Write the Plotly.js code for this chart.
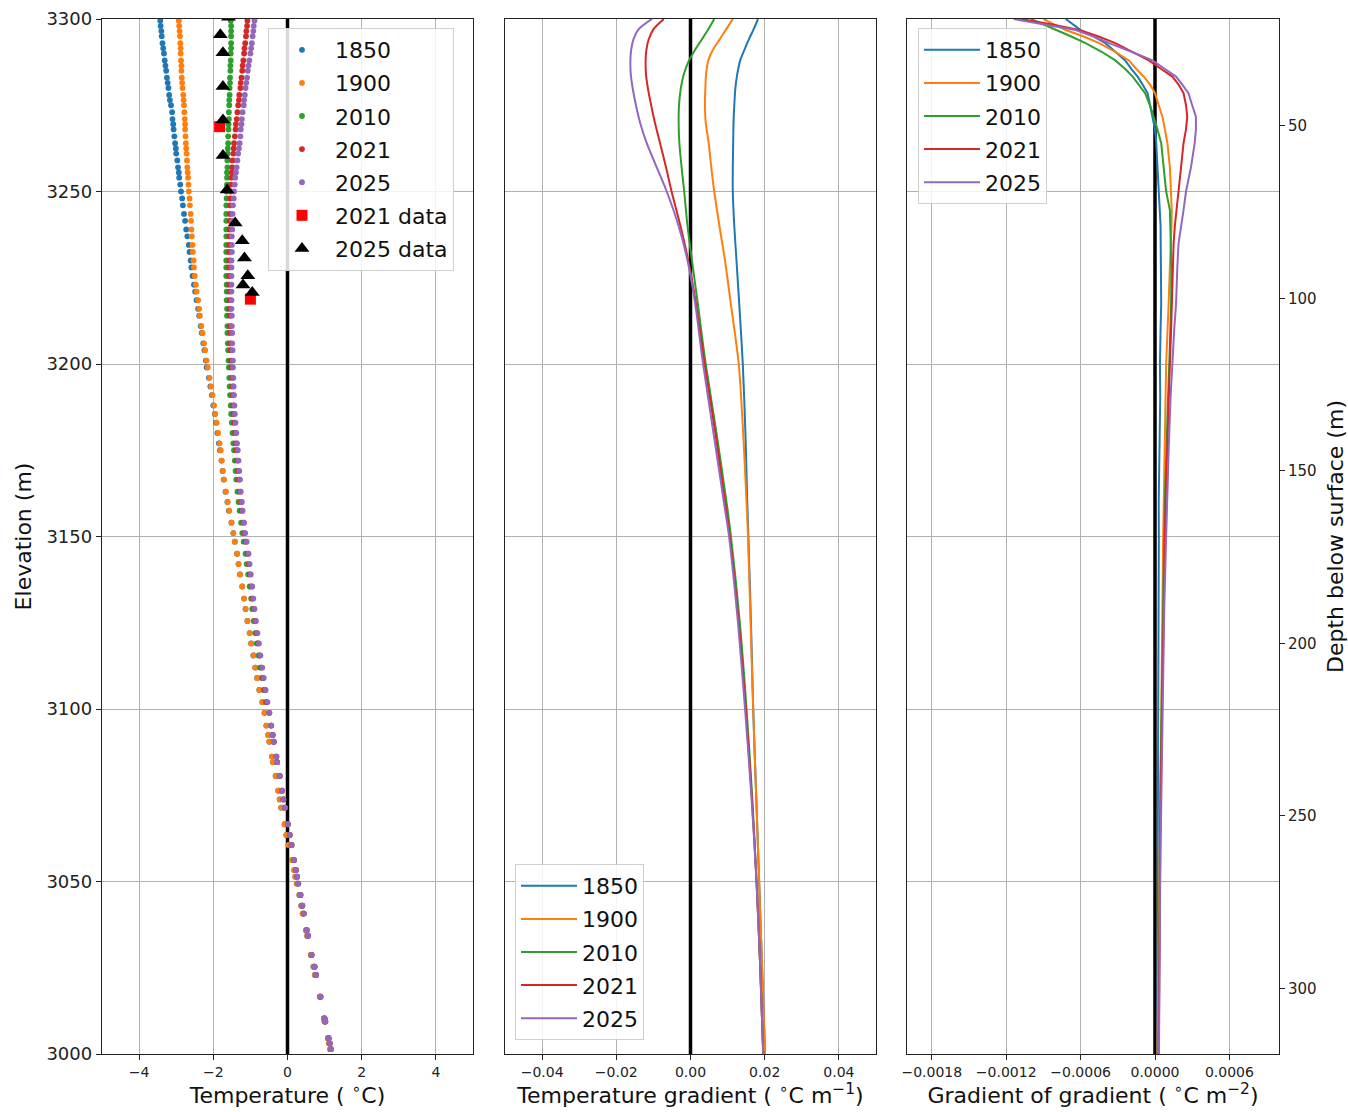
<!DOCTYPE html>
<html>
<head>
<meta charset="utf-8">
<script src="https://cdn.plot.ly/plotly-3.0.1.min.js"></script>
<style>html,body{margin:0;padding:0;background:#fff;}#chart{width:1348px;height:1112px;}</style>
</head>
<body>
<div id="chart"></div>
<script>
// ---------- Panel 1: modelled temperature at mesh nodes ----------
const elevUpper = [3299.5,3298,3296.5,3295,3293,3291.5,3290,3288,3286.5,3285,3283,3281.5,3280,3278,3276.5,3275,3273,3271,3269.5,3268,3266,3264,3262.5,3261,3259,3257,3255.5,3254,3252,3250,
3248,3246,3243.5,3241.5,3239,3237,3234.5,3232.5,3230,3228,3225.5,3223,3221,3218.5,3216,3214,3211,3209,3206,3204,3201,3199,3196,3193.5,3191,3188,3185.5,3183,3180,3177,3175,3172,3169,3166.5,3163,3160,3157.5,3154,3151,3148.5,3145,3142,3139,3135.5,3132,3129,3125.5,3122,3119,3115.5,3112,3109,3105.5,3102];
const elevLower = [3098.9,3095.2,3092.5,3090.5,3086.2,3084.6,3080.6,3076.3,3073.8,3071.4,3066.6,3063.5,3060.6,3056.2,3053.3,3051.4,3049.4,3046.1,3043.0,3040.7,3035.9,3034.3,3028.7,3025.3,3022.9,3016.6,3010.3,3009.4,3004.6,3003.1,3001.4];

const t1850Upper = [-3.43,-3.42,-3.40,-3.39,-3.37,-3.35,-3.33,-3.31,-3.29,-3.27,-3.25,-3.23,-3.21,-3.19,-3.17,-3.14,-3.11,-3.10,-3.08,-3.07,-3.05,-3.03,-3.01,-3.00,-2.97,-2.95,-2.93,-2.92,-2.89,-2.87,
-2.84,-2.82,-2.79,-2.76,-2.73,-2.70,-2.66,-2.64,-2.61,-2.59,-2.56,-2.52,-2.49,-2.45,-2.41,-2.38,-2.34,-2.31,-2.27,-2.24,-2.20,-2.18,-2.12,-2.08,-2.04,-2.00,-1.96,-1.93,-1.89,-1.85,-1.82,-1.78,-1.75,-1.72,-1.67,-1.62,-1.58,-1.51,-1.46,-1.42,-1.36,-1.32,-1.28,-1.22,-1.17,-1.13,-1.08,-1.02,-0.98,-0.92,-0.87,-0.82,-0.76,-0.68];
const t1900Upper = [-2.93,-2.92,-2.91,-2.90,-2.89,-2.88,-2.88,-2.87,-2.86,-2.86,-2.85,-2.84,-2.83,-2.81,-2.80,-2.79,-2.78,-2.77,-2.76,-2.76,-2.75,-2.74,-2.73,-2.72,-2.71,-2.70,-2.69,-2.68,-2.67,-2.66,
-2.64,-2.63,-2.61,-2.60,-2.59,-2.58,-2.56,-2.55,-2.53,-2.52,-2.50,-2.47,-2.45,-2.41,-2.38,-2.36,-2.32,-2.29,-2.25,-2.22,-2.18,-2.15,-2.10,-2.06,-2.02,-1.98,-1.95,-1.91,-1.87,-1.83,-1.80,-1.77,-1.74,-1.71,-1.66,-1.61,-1.57,-1.51,-1.46,-1.42,-1.36,-1.32,-1.28,-1.22,-1.17,-1.13,-1.08,-1.02,-0.98,-0.92,-0.87,-0.82,-0.76,-0.68];
const t2010Upper = [-1.53,-1.52,-1.52,-1.52,-1.52,-1.52,-1.53,-1.53,-1.54,-1.54,-1.55,-1.55,-1.56,-1.56,-1.57,-1.57,-1.58,-1.58,-1.59,-1.59,-1.60,-1.60,-1.61,-1.61,-1.62,-1.62,-1.63,-1.63,-1.63,-1.64,
-1.64,-1.65,-1.65,-1.65,-1.65,-1.65,-1.65,-1.65,-1.65,-1.65,-1.65,-1.64,-1.64,-1.64,-1.63,-1.63,-1.62,-1.62,-1.61,-1.60,-1.59,-1.58,-1.57,-1.56,-1.55,-1.53,-1.52,-1.50,-1.48,-1.46,-1.44,-1.42,-1.40,-1.38,-1.35,-1.32,-1.29,-1.25,-1.22,-1.18,-1.13,-1.10,-1.06,-1.02,-0.98,-0.95,-0.91,-0.87,-0.83,-0.78,-0.74,-0.69,-0.64,-0.59];
const t2021Upper = [-1.08,-1.09,-1.11,-1.12,-1.14,-1.16,-1.17,-1.19,-1.21,-1.22,-1.24,-1.26,-1.27,-1.30,-1.31,-1.33,-1.35,-1.37,-1.39,-1.40,-1.42,-1.44,-1.45,-1.46,-1.48,-1.49,-1.50,-1.51,-1.52,-1.53,
-1.54,-1.55,-1.55,-1.56,-1.56,-1.57,-1.57,-1.57,-1.57,-1.57,-1.57,-1.57,-1.56,-1.56,-1.56,-1.55,-1.55,-1.54,-1.54,-1.53,-1.52,-1.51,-1.49,-1.48,-1.47,-1.46,-1.45,-1.43,-1.41,-1.39,-1.37,-1.35,-1.33,-1.31,-1.28,-1.25,-1.23,-1.19,-1.16,-1.12,-1.07,-1.04,-1.01,-0.97,-0.94,-0.91,-0.87,-0.83,-0.79,-0.75,-0.70,-0.66,-0.61,-0.56];
const t2025Upper = [-0.89,-0.91,-0.92,-0.94,-0.96,-0.98,-1.00,-1.03,-1.05,-1.07,-1.09,-1.11,-1.13,-1.15,-1.17,-1.18,-1.21,-1.23,-1.24,-1.26,-1.27,-1.29,-1.31,-1.33,-1.35,-1.37,-1.39,-1.41,-1.42,-1.44,
-1.45,-1.47,-1.48,-1.49,-1.49,-1.50,-1.50,-1.50,-1.51,-1.51,-1.51,-1.51,-1.51,-1.51,-1.51,-1.50,-1.50,-1.49,-1.49,-1.48,-1.47,-1.47,-1.46,-1.45,-1.44,-1.43,-1.42,-1.40,-1.38,-1.36,-1.34,-1.32,-1.30,-1.28,-1.26,-1.23,-1.21,-1.17,-1.14,-1.10,-1.05,-1.02,-0.99,-0.95,-0.92,-0.89,-0.85,-0.81,-0.77,-0.73,-0.68,-0.64,-0.59,-0.54];
const tColdLower = [-0.62,-0.57,-0.52,-0.49,-0.42,-0.39,-0.32,-0.25,-0.21,-0.17,-0.08,-0.03,0.03,0.12,0.18,0.21,0.25,0.32,0.37,0.41,0.50,0.53,0.63,0.70,0.74,0.87,0.98,1.00,1.09,1.12,1.15];
const tWarmLower = [-0.49,-0.44,-0.40,-0.37,-0.30,-0.28,-0.21,-0.15,-0.11,-0.07,0.01,0.06,0.11,0.18,0.23,0.26,0.29,0.35,0.40,0.44,0.52,0.55,0.65,0.73,0.77,0.89,1.00,1.02,1.11,1.14,1.17];

const data2021Temp = [-1.83,-1.00];
const data2021Elev = [3268.8,3218.8];
const data2025Temp = [-1.59,-1.81,-1.74,-1.74,-1.74,-1.74,-1.63,-1.41,-1.22,-1.16,-1.07,-1.20,-0.95];
const data2025Elev = [3300.5,3295.4,3290.2,3280.4,3270.7,3260.4,3250.4,3240.9,3235.7,3230.7,3225.6,3222.9,3220.7];

// ---------- Panel 2: temperature gradient ----------
const gradElev = [3300,3297,3294,3291,3288,3284,3280,3275,3270,3264,3257,3250,3240,3230,3218,3200,3180,3160,3150,3125,3100,3075,3050,3025,3000];
const g1850 = [0.0182,0.0170,0.0157,0.0145,0.0134,0.0126,0.0121,0.0118,0.0116,0.0115,0.0114,0.0114,0.0118,0.0124,0.0131,0.0141,0.0148,0.0153,0.0156,0.0163,0.0169,0.0177,0.0185,0.0193,0.0201];
const g1900 = [0.0114,0.0096,0.0078,0.0060,0.0048,0.0042,0.0040,0.0039,0.0041,0.0049,0.0056,0.0064,0.0078,0.0093,0.0108,0.0130,0.0142,0.0151,0.0155,0.0162,0.0169,0.0177,0.0185,0.0193,0.0201];
const g2010 = [0.0064,0.0048,0.0030,0.0012,-0.0004,-0.0018,-0.0026,-0.0031,-0.0032,-0.0030,-0.0024,-0.0017,-0.0008,0.0004,0.0019,0.0041,0.0070,0.0097,0.0109,0.0133,0.0151,0.0166,0.0178,0.0188,0.0196];
const g2021 = [-0.0072,-0.0100,-0.0113,-0.0119,-0.0121,-0.0120,-0.0115,-0.0106,-0.0096,-0.0082,-0.0066,-0.0051,-0.0027,-0.0006,0.0014,0.0038,0.0067,0.0093,0.0106,0.0130,0.0149,0.0165,0.0178,0.0188,0.0196];
const g2025 = [-0.0104,-0.0140,-0.0154,-0.0160,-0.0162,-0.0161,-0.0156,-0.0147,-0.0136,-0.0118,-0.0091,-0.0064,-0.0032,-0.0008,0.0012,0.0034,0.0062,0.0090,0.0104,0.0128,0.0147,0.0164,0.0178,0.0188,0.0196];

// ---------- Panel 3: gradient of gradient ----------
const curvElev = [3300,3298.5,3296.8,3295,3293,3290.5,3288,3285.5,3283.3,3281,3278.5,3275,3271.7,3268,3264,3257,3250,3244.6,3240,3235,3228,3217.6,3210,3200,3190,3175,3160,3150,3130,3110,3100,3080,3060,3050,3030,3010,3000];
const c1850 = [-7.2e-4,-6.6e-4,-6.0e-4,-5.0e-4,-4.0e-4,-3.2e-4,-2.4e-4,-1.9e-4,-1.4e-4,-1.0e-4,-0.6e-4,-0.4e-4,-0.2e-4,0.0,0.1e-4,0.2e-4,0.3e-4,0.4e-4,0.45e-4,0.46e-4,0.5e-4,0.5e-4,0.45e-4,0.4e-4,0.42e-4,0.35e-4,0.3e-4,0.31e-4,0.28e-4,0.26e-4,0.25e-4,0.24e-4,0.22e-4,0.23e-4,0.2e-4,0.21e-4,0.2e-4];
const c1900 = [-9.0e-4,-8.1e-4,-7.2e-4,-5.8e-4,-4.5e-4,-3.2e-4,-2.1e-4,-1.5e-4,-0.9e-4,-0.4e-4,0.0,0.3e-4,0.6e-4,0.8e-4,1.0e-4,1.2e-4,1.3e-4,1.35e-4,1.33e-4,1.3e-4,1.2e-4,1.1e-4,1.0e-4,0.9e-4,0.85e-4,0.76e-4,0.7e-4,0.66e-4,0.6e-4,0.55e-4,0.5e-4,0.45e-4,0.38e-4,0.35e-4,0.28e-4,0.22e-4,0.2e-4];
const c2010 = [-10.0e-4,-9.0e-4,-8.0e-4,-6.8e-4,-5.6e-4,-4.3e-4,-3.2e-4,-2.4e-4,-1.8e-4,-1.3e-4,-0.8e-4,-0.4e-4,-0.1e-4,0.2e-4,0.5e-4,0.7e-4,0.9e-4,1.2e-4,1.25e-4,1.3e-4,1.32e-4,1.3e-4,1.25e-4,1.15e-4,1.05e-4,0.9e-4,0.8e-4,0.75e-4,0.65e-4,0.57e-4,0.52e-4,0.45e-4,0.4e-4,0.37e-4,0.32e-4,0.28e-4,0.27e-4];
const c2021 = [-10.8e-4,-8.4e-4,-6.1e-4,-4.6e-4,-3.2e-4,-1.8e-4,-0.5e-4,0.5e-4,1.4e-4,1.9e-4,2.3e-4,2.5e-4,2.6e-4,2.5e-4,2.3e-4,2.1e-4,1.9e-4,1.7e-4,1.6e-4,1.5e-4,1.45e-4,1.4e-4,1.3e-4,1.2e-4,1.1e-4,0.95e-4,0.85e-4,0.8e-4,0.7e-4,0.6e-4,0.55e-4,0.48e-4,0.42e-4,0.4e-4,0.35e-4,0.3e-4,0.3e-4];
const c2025 = [-11.4e-4,-8.9e-4,-6.4e-4,-5.0e-4,-3.7e-4,-1.9e-4,-0.2e-4,0.8e-4,1.7e-4,2.2e-4,2.7e-4,3.0e-4,3.3e-4,3.3e-4,3.2e-4,2.9e-4,2.5e-4,2.3e-4,2.1e-4,1.9e-4,1.8e-4,1.7e-4,1.55e-4,1.4e-4,1.25e-4,1.1e-4,0.95e-4,0.9e-4,0.75e-4,0.65e-4,0.6e-4,0.5e-4,0.45e-4,0.42e-4,0.38e-4,0.33e-4,0.32e-4];

// ---------- Labels ----------
const years = ['1850','1900','2010','2021','2025'];
const colors = ['#1f77b4','#ff7f0e','#2ca02c','#d62728','#9467bd'];
const elevTicks = [3000,3050,3100,3150,3200,3250,3300];
const depthTicks = [50,100,150,200,250,300];
const depthRange = [319,19];
const x1Ticks = [-4,-2,0,2,4];
const x1Text = ['\u22124','\u22122','0','2','4'];
const x2Ticks = [-0.04,-0.02,0,0.02,0.04];
const x2Text = ['\u22120.04','\u22120.02','0.00','0.02','0.04'];
const x3Ticks = [-0.0018,-0.0012,-0.0006,0,0.0006];
const x3Text = ['\u22120.0018','\u22120.0012','\u22120.0006','0.0000','0.0006'];

const elev = elevUpper.concat(elevLower);
const tempSeries = [
  t1850Upper.concat(tColdLower),
  t1900Upper.concat(tColdLower),
  t2010Upper.concat(tWarmLower),
  t2021Upper.concat(tWarmLower),
  t2025Upper.concat(tWarmLower)
];
const gradSeries = [g1850,g1900,g2010,g2021,g2025];
const curvSeries = [c1850,c1900,c2010,c2021,c2025];

const FONT = 'DejaVu Sans, Liberation Sans, sans-serif';
const traces = [];

function zeroLine(xa, ya) {
  return {x:[0,0], y:[3000,3300], xaxis:xa, yaxis:ya, mode:'lines',
    line:{color:'#000', width:3.5}, showlegend:false, hoverinfo:'skip'};
}
traces.push(zeroLine('x','y'));
traces.push(zeroLine('x2','y2'));
traces.push(zeroLine('x3','y3'));

years.forEach((yr,i) => {
  traces.push({x:tempSeries[i], y:elev, xaxis:'x', yaxis:'y', type:'scatter', mode:'markers',
    name:yr, legend:'legend', legendgroup:'a'+yr,
    marker:{color:colors[i], size:5.8, line:{width:0}}});
});
traces.push({x:data2021Temp, y:data2021Elev, xaxis:'x', yaxis:'y', mode:'markers', name:'2021 data',
  legend:'legend', legendgroup:'a21d', marker:{symbol:'square', color:'#ff0000', size:11, line:{width:0}}});
traces.push({x:data2025Temp, y:data2025Elev, xaxis:'x', yaxis:'y', mode:'markers', name:'2025 data',
  legend:'legend', legendgroup:'a25d', marker:{symbol:'triangle-up', color:'#000', size:13, line:{width:0}}});

years.forEach((yr,i) => {
  traces.push({x:gradSeries[i], y:gradElev, xaxis:'x2', yaxis:'y2', mode:'lines', name:yr,
    legend:'legend2', legendgroup:'b'+yr,
    line:{color:colors[i], width:2, shape:'spline', smoothing:0.8}});
});
years.forEach((yr,i) => {
  traces.push({x:curvSeries[i], y:curvElev, xaxis:'x3', yaxis:'y3', mode:'lines', name:yr,
    legend:'legend3', legendgroup:'c'+yr,
    line:{color:colors[i], width:2}});
});
traces.push({x:[0], y:[100], xaxis:'x3', yaxis:'y4', mode:'markers', marker:{opacity:0},
  showlegend:false, hoverinfo:'skip'});

const W = 1348, H = 1112;
const yDom = [(H-1054)/H, (H-19)/H];
function xaxisBase(dom, range, tv, tt, title, anchor) {
  return {domain:dom, range:range, tickvals:tv, ticktext:tt, anchor:anchor,
    showgrid:true, gridcolor:'#b0b0b0', gridwidth:1, zeroline:false,
    showline:true, mirror:true, linecolor:'#222', linewidth:1.2,
    ticks:'outside', ticklen:5, tickwidth:1, tickcolor:'#222',
    tickfont:{family:FONT, size:14, color:'#222'},
    title:{text:title, font:{family:FONT, size:22, color:'#111'}, standoff:6}};
}
function yaxisBase(anchor, labels) {
  return {domain:yDom, range:[3000,3300], tickvals:elevTicks, anchor:anchor,
    showgrid:true, gridcolor:'#b0b0b0', gridwidth:1, zeroline:false,
    showline:true, mirror:true, linecolor:'#222', linewidth:1.2,
    ticks: labels ? 'outside' : '', ticklen:5, tickcolor:'#222',
    showticklabels:labels,
    tickfont:{family:FONT, size:18, color:'#222'}};
}
const legendBase = {bgcolor:'rgba(255,255,255,0.85)', bordercolor:'#d0d0d0', borderwidth:1,
  font:{family:FONT, size:22, color:'#111'}, xanchor:'left', tracegroupgap:1.5, itemwidth:56,
  traceorder:'grouped'};

const layout = {
  width:W, height:H, margin:{l:0,r:0,t:0,b:0},
  paper_bgcolor:'#fff', plot_bgcolor:'#fff',
  font:{family:FONT},
  xaxis: xaxisBase([102/W,473/W], [-5,5], x1Ticks, x1Text, 'Temperature ( <sup>\u2218</sup>C)', 'y'),
  xaxis2: xaxisBase([505/W,876/W], [-0.05,0.05], x2Ticks, x2Text, 'Temperature gradient ( <sup>\u2218</sup>C m<sup>\u22121</sup>)', 'y2'),
  xaxis3: xaxisBase([907/W,1279/W], [-0.0020,0.0010], x3Ticks, x3Text, 'Gradient of gradient ( <sup>\u2218</sup>C m<sup>\u22122</sup>)', 'y3'),
  yaxis: Object.assign(yaxisBase('x', true), {title:{text:'Elevation (m)', font:{family:FONT, size:22, color:'#111'}, standoff:8}}),
  yaxis2: yaxisBase('x2', false),
  yaxis3: yaxisBase('x3', false),
  yaxis4: {overlaying:'y3', anchor:'x3', side:'right', range:depthRange, tickvals:depthTicks,
    showgrid:false, zeroline:false, showline:false, ticks:'outside', ticklen:5, tickcolor:'#222',
    tickfont:{family:FONT, size:15, color:'#222'},
    title:{text:'Depth below surface (m)', font:{family:FONT, size:22, color:'#111'}, standoff:12}},
  legend: Object.assign({}, legendBase, {x:268/W, y:(H-28)/H, yanchor:'top'}),
  legend2: Object.assign({}, legendBase, {x:515/W, y:(H-1040)/H, yanchor:'bottom'}),
  legend3: Object.assign({}, legendBase, {x:918/W, y:(H-28)/H, yanchor:'top'})
};

Plotly.newPlot('chart', traces, layout, {staticPlot:true, displayModeBar:false});
</script>
</body>
</html>
